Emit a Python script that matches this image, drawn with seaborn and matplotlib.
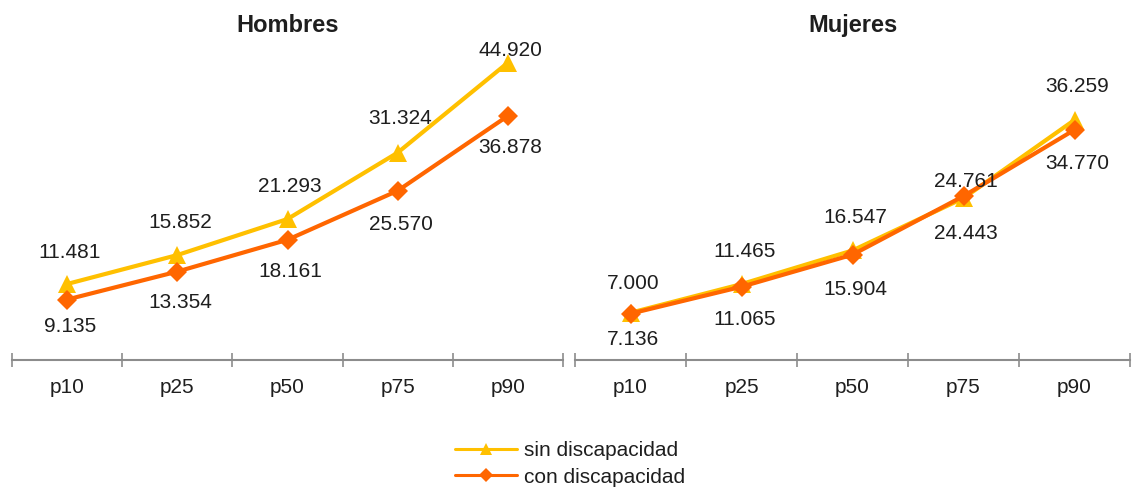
import numpy as np
import pandas as pd
import matplotlib
matplotlib.use("Agg")
import matplotlib.pyplot as plt
from matplotlib.lines import Line2D
import seaborn as sns

# Percentiles of annual salary (euros), by sex and disability status
percentiles = ["p10", "p25", "p50", "p75", "p90"]
hombres_sin = [11481, 15852, 21293, 31324, 44920]
hombres_con = [9135, 13354, 18161, 25570, 36878]
mujeres_sin = [7136, 11465, 16547, 24443, 36259]
mujeres_con = [7000, 11065, 15904, 24761, 34770]
series_names = ["sin discapacidad", "con discapacidad"]
panel_titles = ["Hombres", "Mujeres"]

sns.set_theme(style="white")
plt.rcParams["font.family"] = ["Liberation Sans", "DejaVu Sans"]

colors = {"sin discapacidad": "#FFC000", "con discapacidad": "#FF6600"}
markers = {"sin discapacidad": "^", "con discapacidad": "D"}
marker_sizes = {"sin discapacidad": 13, "con discapacidad": 10}
text_color = "#1e1e1e"
axis_color = "#8c8c8c"
fs = 15

def fmt(v):
    return f"{v:,}".replace(",", ".")

def long_frame(sin_vals, con_vals):
    return pd.DataFrame({
        "percentil": percentiles * 2,
        "pos": list(range(len(percentiles))) * 2,
        "salario": sin_vals + con_vals,
        "serie": [series_names[0]] * len(sin_vals) + [series_names[1]] * len(con_vals),
    })

# vertical label offsets in pixels (negative = above the point)
label_offsets = {
    "Hombres": {
        "sin discapacidad": [-31, -33, -33, -34, -12],
        "con discapacidad": [27, 31, 32, 34, 32],
    },
    "Mujeres": {
        "sin discapacidad": [27, -33, -33, 35, -33],
        "con discapacidad": [-30, 33, 35, -15, 34],
    },
}

W, H = 1137, 491
fig = plt.figure(figsize=(W / 100, H / 100), dpi=100)
ax_bottom = 1 - 360 / H
ax_top = 1 - 29 / H
axes = [
    fig.add_axes([12 / W, ax_bottom, 551 / W, ax_top - ax_bottom]),
    fig.add_axes([575 / W, ax_bottom, 555 / W, ax_top - ax_bottom]),
]

panels = [(hombres_sin, hombres_con), (mujeres_sin, mujeres_con)]

for ax, title, (s_vals, c_vals) in zip(axes, panel_titles, panels):
    df = long_frame(s_vals, c_vals)
    sns.lineplot(
        data=df, x="pos", y="salario", hue="serie", style="serie",
        hue_order=series_names, style_order=series_names,
        palette=colors, markers=markers, dashes=False,
        linewidth=3.0, markeredgewidth=0,
        legend=False, ax=ax, zorder=3,
    )
    for line, name in zip(ax.lines, series_names):
        line.set_markersize(marker_sizes[name])
    ax.set_xlim(-0.5, len(percentiles) - 0.5)
    ax.set_ylim(0, 50000)
    ax.set_xlabel("")
    ax.set_ylabel("")
    ax.set_yticks([])
    ax.set_xticks(range(len(percentiles)))
    ax.set_xticklabels(percentiles, fontsize=fs, color=text_color)
    ax.set_xticks(np.arange(-0.5, len(percentiles), 1.0), minor=True)
    ax.tick_params(axis="x", which="major", length=0, pad=13)
    ax.tick_params(axis="x", which="minor", bottom=True, length=10, width=1.2,
                   direction="inout", color=axis_color)
    for side in ["top", "left", "right"]:
        ax.spines[side].set_visible(False)
    ax.spines["bottom"].set_color(axis_color)
    ax.spines["bottom"].set_linewidth(1.5)
    ax.set_title(title, fontsize=17, fontweight="bold", color=text_color, pad=-2)

    for name, vals in zip(series_names, (s_vals, c_vals)):
        for i, v in enumerate(vals):
            off = label_offsets[title][name][i]
            ax.annotate(fmt(v), xy=(i, v), xytext=(2, -off * 0.72),
                        textcoords="offset points", ha="center", va="center",
                        fontsize=fs, color=text_color, zorder=4)

# shared legend below the panels
handles = [
    Line2D([0], [0], color=colors[n], marker=markers[n], linewidth=2.2,
           markersize=9 if n == series_names[0] else 7, markeredgewidth=0)
    for n in series_names
]
fig.legend(handles, series_names, loc="center", bbox_to_anchor=(570 / W, 1 - 464 / H),
           frameon=False, fontsize=fs, handlelength=3.0, handletextpad=0.35,
           labelspacing=0.35, borderpad=0, labelcolor=text_color)

fig.savefig("out.png", dpi=100)
